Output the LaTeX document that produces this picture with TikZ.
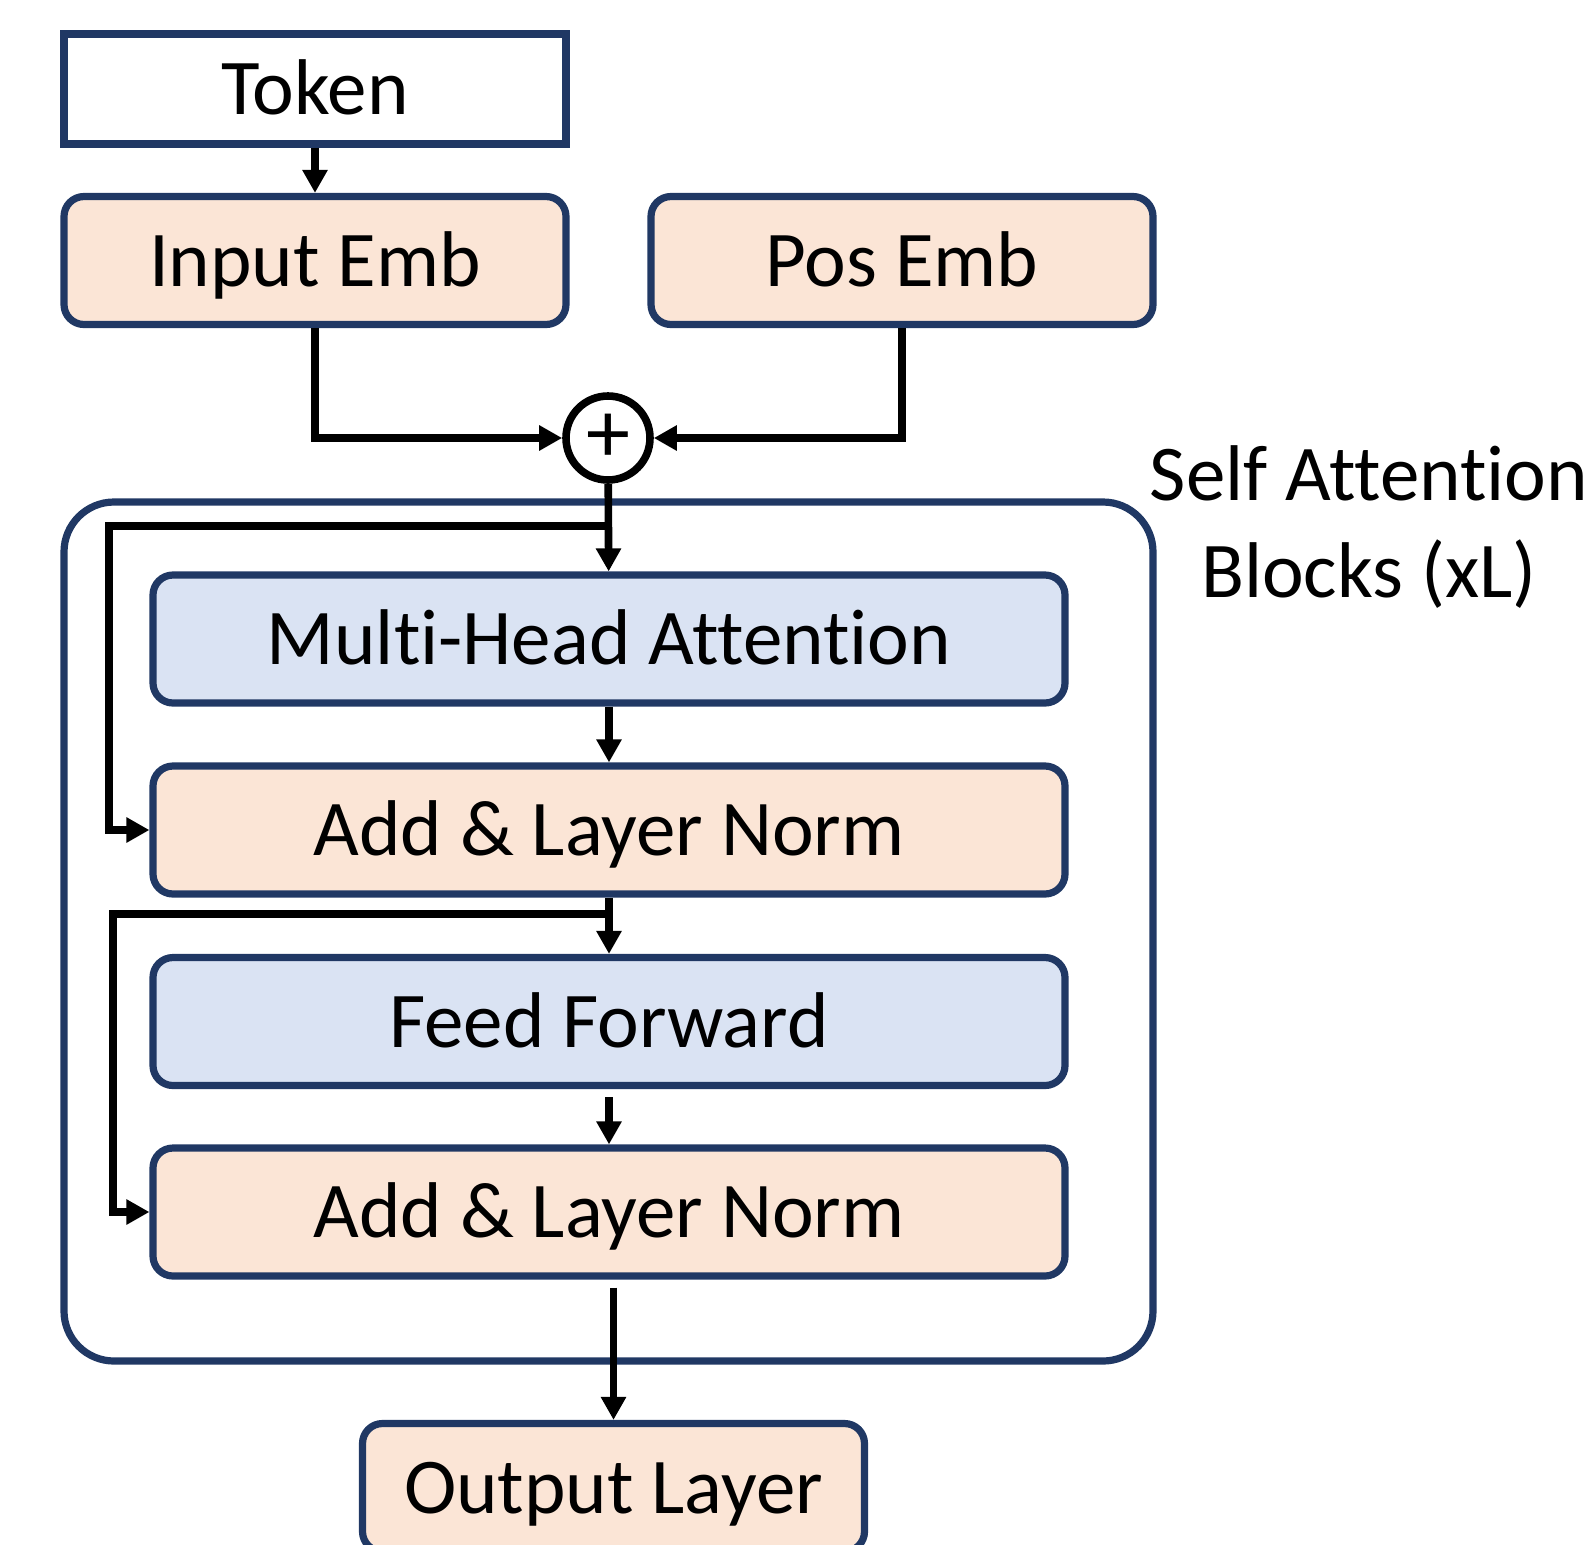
\documentclass[tikz,border=0pt]{standalone}
\usepackage{fontspec}
\setmainfont[Ligatures=NoCommon]{Carlito}
\usetikzlibrary{arrows.meta}

\definecolor{boxline}{RGB}{32,56,100}
\definecolor{embfill}{RGB}{251,229,214}
\definecolor{subfill}{RGB}{218,227,243}

\tikzset{
  blk/.style={draw=boxline,line width=3.6pt,rounded corners=10pt,minimum height=64pt,
    font=\fontsize{39.5}{48}\selectfont,inner sep=0pt,text height=25.5pt,text depth=0pt},
  embblk/.style={blk,fill=embfill,minimum width=251pt},
  subblk/.style={blk,fill=subfill,minimum width=456pt},
  arr/.style={draw=black,line width=3.8pt,-{Triangle[length=11.5pt,width=12pt]}},
}

\begin{document}
\begin{tikzpicture}[x=0.5pt,y=-0.5pt]
  \useasboundingbox (0,0) rectangle (1596,1544);

  % outer block
  \draw[draw=boxline,line width=3.6pt,rounded corners=25pt] (64,502) rectangle (1153,1361);
  \node[align=center,font=\fontsize{39.5}{48.5}\selectfont] (blocklabel) at (1369,527) {Self Attention\\Blocks (xL)};

  \node[embblk,fill=white,rounded corners=0pt,minimum height=55pt] (tok) at (315,89) {Token};
  \node[embblk] (inemb) at (315,260.5) {Input Emb};
  \node[embblk] (posemb) at (902,260.5) {Pos Emb};
  \node[circle,draw=black,line width=3.8pt,minimum size=42pt,inner sep=0pt,
        font=\fontsize{44}{44}\selectfont] (plus) at (608,438) {+};

  \node[subblk] (mha) at (609,639) {Multi-Head Attention};
  \node[subblk,fill=embfill] (addnorm1) at (609,830) {Add \& Layer Norm};
  \node[subblk] (ff) at (609,1021.5) {Feed Forward};
  \node[subblk,fill=embfill] (addnorm2) at (609,1212) {Add \& Layer Norm};
  \node[embblk] (out) at (613.5,1487.5) {Output Layer};

  \coordinate (split1) at (608,526);
  \coordinate (turn1) at (109,526);
  \coordinate (split2) at (608,914);
  \coordinate (turn2) at (113,914);

  \draw[arr] (tok) -- (inemb);
  \draw[arr] (inemb.south) |- (plus.west);
  \draw[arr] (posemb.south) |- (plus.east);
  \draw[arr] (plus) -- (mha);
  \draw[arr] (split1) -- (turn1) |- (addnorm1.west);
  \draw[arr] (mha) -- (addnorm1);
  \draw[arr] (addnorm1) -- (ff);
  \draw[arr] (split2) -- (turn2) |- (addnorm2.west);
  \draw[arr,shorten <=4pt] (ff) -- (addnorm2);
  \draw[arr,shorten <=4pt] (addnorm2.south -| out.north) -- (out.north);
\end{tikzpicture}
\end{document}
